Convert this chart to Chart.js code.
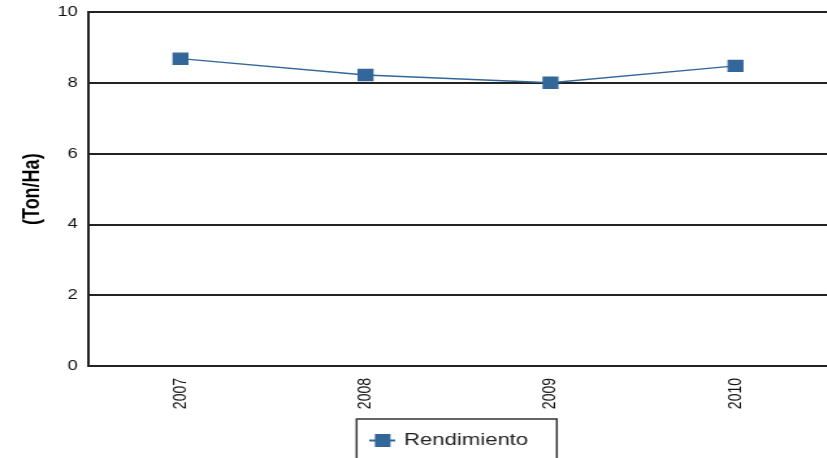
<!DOCTYPE html>
<html>
<head>
<meta charset="utf-8">
<script src="https://cdn.jsdelivr.net/npm/chart.js@4"></script>
<style>
    html, body { margin: 0; padding: 0; background: #fff; overflow: hidden; }
    #marco { width: 646px; height: 463px; margin-top: -4px; transform: scaleX(1.3); transform-origin: 0 0; }
</style>
</head>
<body>
<div id="marco"><canvas id="graficoRendimiento"></canvas></div>
<script>
const anios = ["2007", "2008", "2009", "2010"];
const rendimiento = [8.69, 8.23, 8.01, 8.49];
const nombreSerie = "Rendimiento";
const tituloEjeY = "(Ton/Ha)";

const colorSerie = "#336699";

// icono de la leyenda: linea con cuadro
function crearIconoLeyenda() {
    let icono = document.createElement("canvas");
    icono.width = 20;
    icono.height = 13;
    let c = icono.getContext("2d");
    c.strokeStyle = colorSerie;
    c.lineWidth = 2;
    c.beginPath();
    c.moveTo(0, 6.5);
    c.lineTo(20, 6.5);
    c.stroke();
    c.fillStyle = colorSerie;
    c.fillRect(4, 0, 12, 13);
    return icono;
}

const bordeLeyenda = {
    id: "bordeLeyenda",
    afterUpdate(chart) {
        let leyenda = chart.legend;
        let mover = -6;
        leyenda.left += mover;
        leyenda.right += mover;
        leyenda.legendHitBoxes.forEach(h => h.left += mover);
    },
    afterDraw(chart) {
        let h = chart.legend.legendHitBoxes[0];
        if (!h) return;
        let ctx = chart.ctx;
        ctx.save();
        ctx.strokeStyle = "#333";
        ctx.lineWidth = 1.5;
        ctx.strokeRect(h.left - 12, h.top - 13, 154, 80);
        ctx.restore();
    }
};

Chart.defaults.font.family = "'Liberation Sans', Arial, sans-serif";
Chart.defaults.color = "#222";

const ctx = document.getElementById("graficoRendimiento").getContext("2d");

new Chart(ctx, {
    type: "line",
    data: {
        labels: anios,
        datasets: [{
            label: nombreSerie,
            data: rendimiento,
            borderColor: colorSerie,
            backgroundColor: colorSerie,
            borderWidth: 1.3,
            pointStyle: "rect",
            pointRadius: 7.8,
            pointHoverRadius: 7.8,
            tension: 0,
            fill: false
        }]
    },
    options: {
        responsive: true,
        maintainAspectRatio: false,
        animation: false,
        layout: { padding: { top: 6, right: 6, bottom: 0, left: 0 } },
        plugins: {
            tooltip: { enabled: false },
            legend: {
                position: "bottom",
                fullSize: false,
                labels: {
                    usePointStyle: true,
                    pointStyle: crearIconoLeyenda(),
                    pointStyleWidth: 16,
                    padding: 23,
                    color: "#222",
                    font: { size: 17 }
                }
            }
        },
        scales: {
            x: {
                offset: true,
                grid: { display: false, drawTicks: false },
                border: { display: true, color: "#222", width: 2 },
                ticks: {
                    minRotation: 90,
                    maxRotation: 90,
                    padding: 12,
                    color: "#111",
                    font: { size: 14 }
                },
                afterFit: scale => { scale.height = 43; }
            },
            y: {
                min: 0,
                max: 10,
                ticks: { stepSize: 2, padding: 8, color: "#111", font: { size: 14 } },
                grid: { color: "#222", lineWidth: 2, drawTicks: false },
                border: { display: true, color: "#222", width: 2 },
                title: {
                    display: true,
                    text: tituloEjeY,
                    color: "#000",
                    padding: { top: 14, bottom: 0 },
                    font: { size: 18, weight: "bold" }
                },
                afterFit: scale => { scale.width = 67.7; }
            }
        }
    },
    plugins: [bordeLeyenda]
});
</script>
</body>
</html>
